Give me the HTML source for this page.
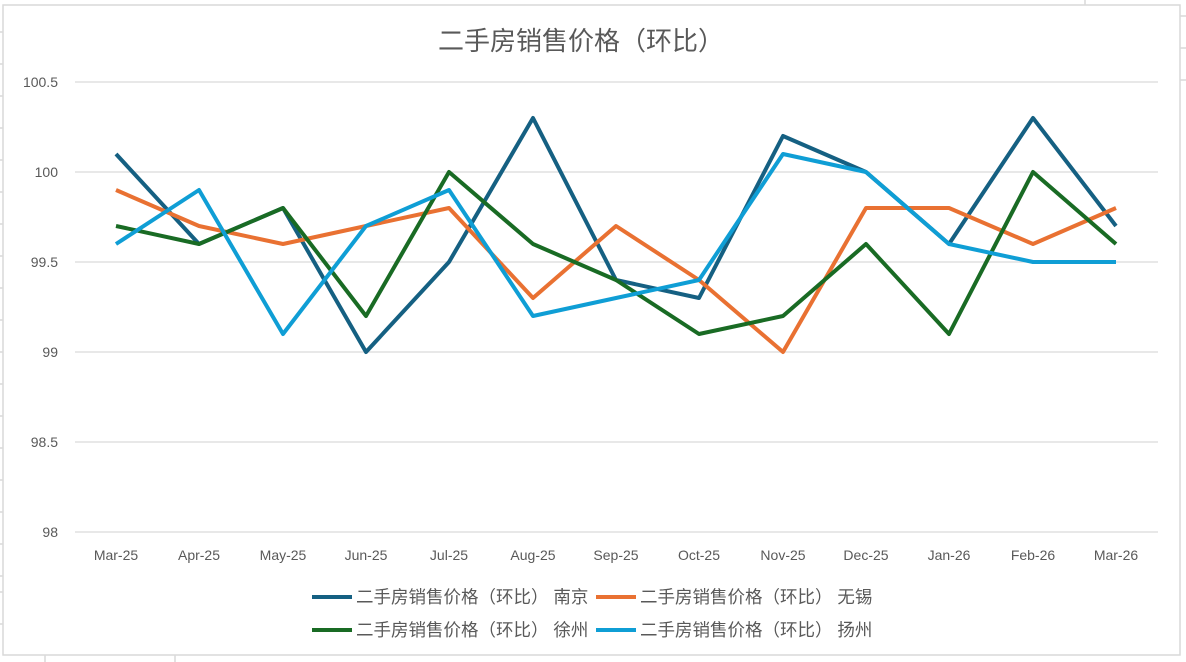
<!DOCTYPE html><html><head><meta charset="utf-8"><style>body{margin:0;background:#fff}svg{display:block}</style></head><body>
<svg width="1186" height="662" xmlns="http://www.w3.org/2000/svg" font-family="'Liberation Sans','Noto Sans CJK SC',sans-serif">
<g stroke="#d9d9d9" stroke-width="1.5">
<line x1="0" y1="32" x2="3" y2="32"/><line x1="0" y1="64" x2="3" y2="64"/><line x1="0" y1="96" x2="3" y2="96"/><line x1="0" y1="128" x2="3" y2="128"/><line x1="0" y1="160" x2="3" y2="160"/><line x1="0" y1="192" x2="3" y2="192"/><line x1="0" y1="224" x2="3" y2="224"/><line x1="0" y1="256" x2="3" y2="256"/><line x1="0" y1="288" x2="3" y2="288"/><line x1="0" y1="320" x2="3" y2="320"/><line x1="0" y1="352" x2="3" y2="352"/><line x1="0" y1="384" x2="3" y2="384"/><line x1="0" y1="416" x2="3" y2="416"/><line x1="0" y1="448" x2="3" y2="448"/><line x1="0" y1="480" x2="3" y2="480"/><line x1="0" y1="512" x2="3" y2="512"/><line x1="0" y1="544" x2="3" y2="544"/><line x1="0" y1="576" x2="3" y2="576"/><line x1="0" y1="592" x2="3" y2="592"/><line x1="0" y1="624" x2="3" y2="624"/>
<line x1="1180" y1="16" x2="1186" y2="16"/><line x1="1180" y1="48" x2="1186" y2="48"/><line x1="1180" y1="80" x2="1186" y2="80"/>
<line x1="45" y1="655" x2="45" y2="662"/><line x1="175" y1="655" x2="175" y2="662"/><line x1="1085" y1="0" x2="1085" y2="5"/>
</g>
<rect x="3" y="5" width="1177" height="650" fill="#fff" stroke="#d9d9d9" stroke-width="1.5"/>
<text x="581" y="50" text-anchor="middle" font-size="26" fill="#595959">二手房销售价格（环比）</text>
<g stroke="#d9d9d9" stroke-width="1.3">
<line x1="75" y1="82" x2="1158" y2="82"/><line x1="75" y1="172" x2="1158" y2="172"/><line x1="75" y1="262" x2="1158" y2="262"/><line x1="75" y1="352" x2="1158" y2="352"/><line x1="75" y1="442" x2="1158" y2="442"/><line x1="75" y1="532" x2="1158" y2="532"/>
</g>
<g font-size="14" fill="#595959" text-anchor="end">
<text x="58" y="87">100.5</text><text x="58" y="177">100</text><text x="58" y="267">99.5</text><text x="58" y="357">99</text><text x="58" y="447">98.5</text><text x="58" y="537">98</text>
</g>
<g font-size="14" fill="#595959" text-anchor="middle">
<text x="116" y="560">Mar-25</text><text x="199" y="560">Apr-25</text><text x="283" y="560">May-25</text><text x="366" y="560">Jun-25</text><text x="449" y="560">Jul-25</text><text x="533" y="560">Aug-25</text><text x="616" y="560">Sep-25</text><text x="699" y="560">Oct-25</text><text x="783" y="560">Nov-25</text><text x="866" y="560">Dec-25</text><text x="949" y="560">Jan-26</text><text x="1033" y="560">Feb-26</text><text x="1116" y="560">Mar-26</text>
</g>
<g fill="none" stroke-width="4" stroke-linejoin="round">
<polyline stroke="#156082" points="116,154 199,244 283,208 366,352 449,262 533,118 616,280 699,298 783,136 866,172 949,244 1033,118 1116,226"/>
<polyline stroke="#e97132" points="116,190 199,226 283,244 366,226 449,208 533,298 616,226 699,280 783,352 866,208 949,208 1033,244 1116,208"/>
<polyline stroke="#196b24" points="116,226 199,244 283,208 366,316 449,172 533,244 616,280 699,334 783,316 866,244 949,334 1033,172 1116,244"/>
<polyline stroke="#0f9ed5" points="116,244 199,190 283,334 366,226 449,190 533,316 616,298 699,280 783,154 866,172 949,244 1033,262 1116,262"/>
</g>
<g font-size="17.5" fill="#595959">
<line x1="312" y1="597" x2="352" y2="597" stroke="#156082" stroke-width="4"/><text x="356" y="603">二手房销售价格（环比） 南京</text>
<line x1="596" y1="597" x2="636" y2="597" stroke="#e97132" stroke-width="4"/><text x="640" y="603">二手房销售价格（环比） 无锡</text>
<line x1="312" y1="630" x2="352" y2="630" stroke="#196b24" stroke-width="4"/><text x="356" y="636">二手房销售价格（环比） 徐州</text>
<line x1="596" y1="630" x2="636" y2="630" stroke="#0f9ed5" stroke-width="4"/><text x="640" y="636">二手房销售价格（环比） 扬州</text>
</g>
</svg></body></html>
